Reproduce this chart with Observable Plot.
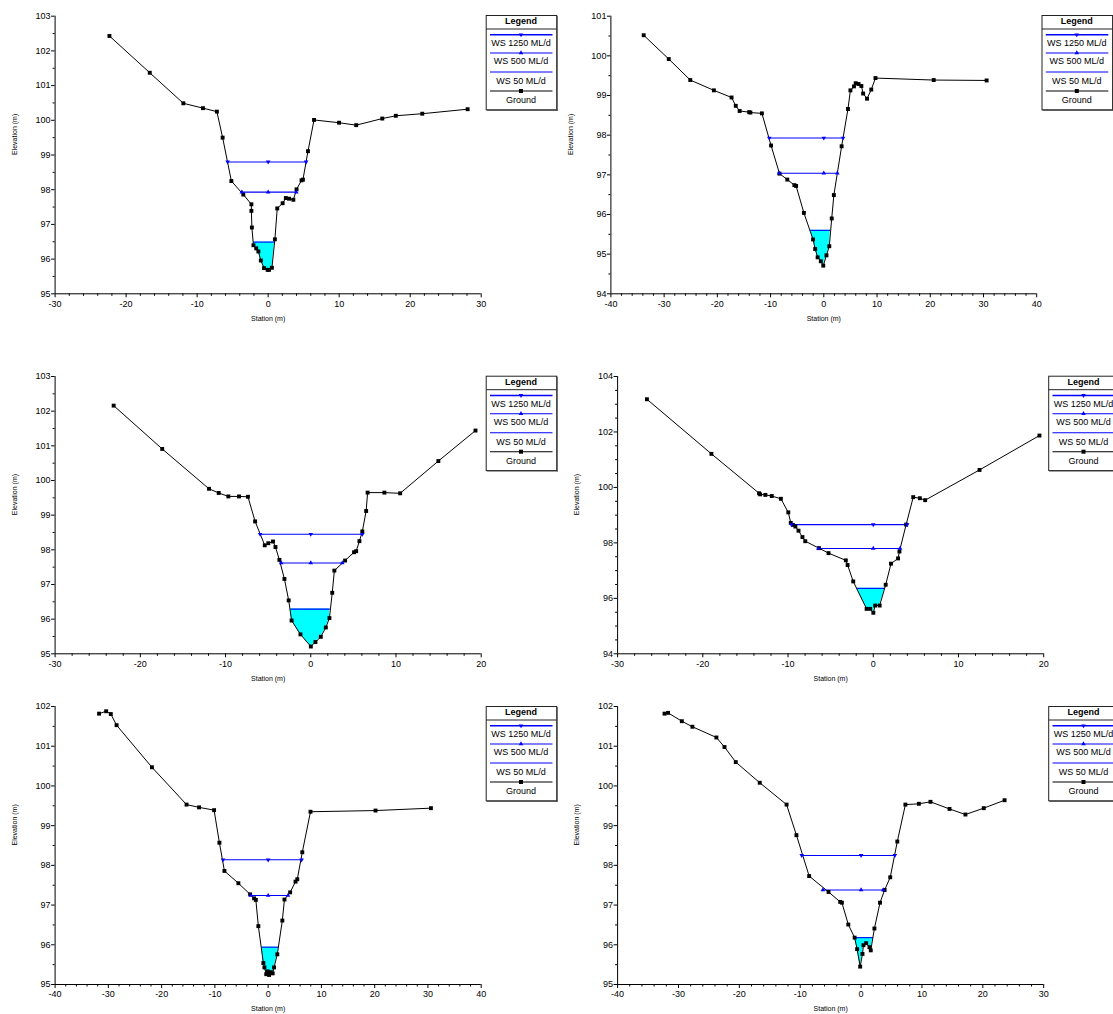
<!DOCTYPE html>
<html><head><meta charset="utf-8">
<script src="https://cdn.jsdelivr.net/npm/d3@7"></script>
<script src="https://cdn.jsdelivr.net/npm/@observablehq/plot@0.6"></script>
<style>
html,body{margin:0;padding:0;background:#fff;}
body{width:1113px;height:1014px;overflow:hidden;position:relative;font-family:Arial,"Liberation Sans",sans-serif;}
.panel{position:absolute;overflow:visible;}
</style></head><body>
<script>
const seriesNames = ["WS 1250 ML/d", "WS 500 ML/d", "WS 50 ML/d", "Ground"];
const xTitle = "Station (m)";
const yTitle = "Elevation (m)";

// Panel 1 (top-left)
const p1Station = [-22.35,-16.67,-11.94,-9.18,-7.22,-6.41,-5.18,-3.50,-2.36,-2.36,-2.29,-2.07,-1.68,-1.38,-1.03,-0.58,-0.07,0.12,0.53,0.95,1.28,2.04,2.49,2.94,3.55,4.00,4.70,4.90,5.61,6.46,9.98,12.40,16.07,17.98,21.70,28.09];
const p1Elevation = [102.43,101.37,100.49,100.35,100.25,99.50,98.25,97.86,97.58,97.39,96.91,96.40,96.31,96.22,95.96,95.74,95.69,95.69,95.75,96.57,97.46,97.61,97.76,97.74,97.71,98.01,98.27,98.29,99.11,100.01,99.93,99.86,100.05,100.13,100.19,100.32];
const p1WSElevation = [98.80, 97.93, 96.49];
const p1WSLeft = [-5.71, -3.70, -2.06];
const p1WSRight = [5.35, 3.97, 0.90];

// Panel 2 (top-right)
const p2Station = [-33.84,-29.13,-25.09,-20.65,-17.33,-16.54,-15.81,-14.02,-13.80,-11.63,-9.91,-8.32,-6.86,-5.53,-5.20,-3.74,-2.02,-1.62,-1.16,-0.56,-0.10,0.50,1.03,1.49,1.89,3.35,4.54,5.00,5.67,6.00,6.53,7.06,7.39,8.12,8.92,9.71,20.65,30.59];
const p2Elevation = [100.52,99.92,99.39,99.13,98.95,98.74,98.61,98.58,98.57,98.55,97.74,97.03,96.88,96.74,96.72,96.04,95.37,95.13,94.92,94.82,94.71,94.97,95.20,95.90,96.49,97.72,98.66,99.13,99.23,99.31,99.29,99.24,99.05,98.92,99.15,99.44,99.39,99.38];
const p2WSElevation = [97.93, 97.04, 95.60];
const p2WSLeft = [-10.24, -8.38, -2.55];
const p2WSRight = [3.61, 2.55, 1.23];

// Panel 3 (middle-left)
const p3Station = [-23.13,-17.43,-11.94,-10.80,-9.67,-8.42,-7.37,-6.53,-5.40,-4.98,-4.43,-4.14,-3.68,-3.09,-2.59,-2.25,-1.21,0.01,0.55,1.18,1.77,2.19,2.52,2.77,4.03,5.08,5.33,5.71,6.05,6.50,6.67,8.64,10.49,14.97,19.33];
const p3Elevation = [102.16,100.91,99.76,99.64,99.54,99.54,99.53,98.82,98.13,98.19,98.24,98.08,97.71,97.16,96.54,95.96,95.56,95.21,95.34,95.49,95.76,96.03,96.76,97.40,97.69,97.93,97.96,98.25,98.53,99.12,99.65,99.65,99.63,100.56,101.44];
const p3WSElevation = [98.45, 97.62, 96.29];
const p3WSLeft = [-5.94, -3.47, -2.38];
const p3WSRight = [6.05, 3.70, 2.23];

// Panel 4 (middle-right)
const p4Station = [-26.56,-18.99,-13.40,-13.28,-12.66,-11.91,-10.84,-9.97,-9.68,-9.43,-9.14,-8.77,-8.31,-7.98,-6.37,-5.25,-3.22,-3.01,-2.35,-0.78,-0.36,0.01,0.22,0.75,1.46,2.08,2.91,3.07,3.86,4.69,5.47,6.09,12.47,19.50];
const p4Elevation = [103.18,101.21,99.79,99.75,99.73,99.69,99.59,99.10,98.72,98.65,98.59,98.44,98.21,98.06,97.81,97.63,97.37,97.20,96.61,95.62,95.62,95.48,95.74,95.74,96.49,97.25,97.44,97.69,98.66,99.65,99.61,99.54,100.63,101.87];
const p4WSElevation = [98.66, 97.80, 96.36];
const p4WSLeft = [-9.59, -6.45, -1.98];
const p4WSRight = [3.98, 3.15, 1.37];

// Panel 5 (bottom-left)
const p5Station = [-31.75,-30.41,-29.54,-28.46,-21.82,-15.32,-12.97,-10.15,-9.15,-8.21,-5.59,-3.38,-2.64,-2.31,-1.84,-0.90,-0.70,-0.36,-0.09,0.17,0.51,0.85,1.11,1.72,2.66,3.06,4.13,5.14,5.47,6.41,7.95,20.16,30.56];
const p5Elevation = [101.82,101.88,101.81,101.53,100.47,99.53,99.46,99.39,98.57,97.86,97.55,97.27,97.17,97.13,96.47,95.54,95.43,95.26,95.33,95.24,95.31,95.28,95.43,95.76,96.61,97.14,97.32,97.59,97.65,98.33,99.35,99.38,99.44];
const p5WSElevation = [98.14, 97.24, 95.94];
const p5WSLeft = [-8.48, -3.25, -1.23];
const p5WSRight = [6.28, 3.73, 1.92];

// Panel 6 (bottom-right)
const p6Station = [-32.29,-31.71,-29.45,-27.71,-23.77,-22.44,-20.59,-16.65,-12.24,-10.62,-8.53,-5.35,-3.43,-3.15,-2.10,-1.06,-0.65,-0.15,0.23,0.39,0.83,1.38,1.59,2.19,3.11,3.87,4.79,5.95,7.28,9.49,11.40,14.53,17.14,20.15,23.57];
const p6Elevation = [101.82,101.84,101.63,101.49,101.22,100.98,100.60,100.08,99.53,98.76,97.73,97.33,97.08,97.06,96.51,96.18,95.89,95.45,95.77,95.99,96.04,95.94,95.86,96.41,97.06,97.38,97.70,98.60,99.53,99.55,99.60,99.42,99.28,99.44,99.64];
const p6WSElevation = [98.25, 97.38, 96.18];
const p6WSLeft = [-9.75, -6.27, -1.06];
const p6WSRight = [5.55, 3.64, 1.92];

// Axis settings per panel
const xDomains = [[-30,30],[-40,40],[-30,20],[-30,20],[-40,40],[-40,30]];
const yDomains = [[95,103],[94,101],[95,103],[94,104],[95,102],[95,102]];
const yMajorSteps = [1,1,1,2,1,1];

const panels = [
  {station:p1Station, elevation:p1Elevation, wsE:p1WSElevation, wsL:p1WSLeft, wsR:p1WSRight, ox:0,   oy:0,   w:560, h:330, frame:[54.6,480.7,15.7,293.3], titleDy:27.4, leg:[485.7,15]},
  {station:p2Station, elevation:p2Elevation, wsE:p2WSElevation, wsL:p2WSLeft, wsR:p2WSRight, ox:560, oy:0,   w:553, h:330, frame:[610.4,1036.2,15.7,293.3], titleDy:27.4, leg:[1041.5,15]},
  {station:p3Station, elevation:p3Elevation, wsE:p3WSElevation, wsL:p3WSLeft, wsR:p3WSRight, ox:0,   oy:360, w:560, h:330, frame:[54.6,480.7,376,653.3], titleDy:27.4, leg:[485.7,375.7]},
  {station:p4Station, elevation:p4Elevation, wsE:p4WSElevation, wsL:p4WSLeft, wsR:p4WSRight, ox:560, oy:360, w:553, h:330, frame:[617.1,1043.2,376,653.3], titleDy:27.4, leg:[1048.2,375.7]},
  {station:p5Station, elevation:p5Elevation, wsE:p5WSElevation, wsL:p5WSLeft, wsR:p5WSRight, ox:0,   oy:690, w:560, h:324, frame:[54.6,480.7,706,984], titleDy:26.7, leg:[485.7,706]},
  {station:p6Station, elevation:p6Elevation, wsE:p6WSElevation, wsL:p6WSLeft, wsR:p6WSRight, ox:560, oy:690, w:553, h:324, frame:[617.1,1043.2,706,984], titleDy:26.7, leg:[1048.2,706]}
];

const FONT = 'Arial, "Liberation Sans", sans-serif';
const BLUE = "#0000ff";

function makePanel(p, k) {
  const ground = p.station.map((s, i) => ({x: s, y: p.elevation[i]}));
  const ws = p.wsE.map((e, i) => ({name: seriesNames[i], y: e, x1: p.wsL[i], x2: p.wsR[i]}));
  const low = ws[2];
  const fill = [
    {x: low.x1, y1: low.y, y2: low.y},
    ...ground.filter(g => g.x > low.x1 && g.x < low.x2).map(g => ({x: g.x, y1: Math.min(g.y, low.y), y2: low.y})),
    {x: low.x2, y1: low.y, y2: low.y}
  ];
  const wsMarks = ws.slice(0, 2).flatMap((d, i) => [d.x1, 0, d.x2].map(x => ({x, y: d.y, rot: i === 0 ? 180 : 0})));
  const [fl, fr, ft, fb] = p.frame;
  const [x0, x1] = xDomains[k];
  const [y0, y1] = yDomains[k];
  const xMajor = d3.range(x0, x1 + 1e-9, 10);
  const xMinor = d3.range(x0, x1 + 1e-9, 2).filter(v => v % 10 !== 0);
  const yMajor = d3.range(y0, y1 + 1e-9, yMajorSteps[k]);
  const yMinor = d3.range(y0, y1 + 1e-9, 0.5).filter(v => Math.abs(v / yMajorSteps[k] - Math.round(v / yMajorSteps[k])) > 1e-6);

  const chart = Plot.plot({
    width: p.w, height: p.h,
    marginLeft: fl - p.ox, marginRight: p.ox + p.w - fr,
    marginTop: ft - p.oy, marginBottom: p.oy + p.h - fb,
    x: {domain: [x0, x1], label: null},
    y: {domain: [y0, y1], label: null},
    style: {fontFamily: FONT, fontSize: "9px", background: "transparent", overflow: "visible", color: "#000"},
    marks: [
      Plot.areaY(fill, {x: "x", y1: "y1", y2: "y2", fill: "#00ffff"}),
      Plot.link(ws, {x1: "x1", x2: "x2", y1: "y", y2: "y", stroke: BLUE, strokeWidth: 1.1}),
      Plot.line(ground, {x: "x", y: "y", stroke: "#000", strokeWidth: 1}),
      Plot.dot(ground, {x: "x", y: "y", symbol: "square", r: 2.2, fill: "#000", stroke: "none"}),
      Plot.dot(wsMarks, {x: "x", y: "y", symbol: "triangle", r: 1.7, fill: BLUE, stroke: "none", rotate: "rot"}),
      Plot.ruleX([x0], {stroke: "#000", strokeWidth: 1}),
      Plot.ruleY([y0], {stroke: "#000", strokeWidth: 1}),
      Plot.axisX({ticks: xMajor, tickSize: 4, tickPadding: 2.5, tickFormat: d => String(d), label: null, fontSize: 9}),
      Plot.axisX({ticks: xMinor, tickSize: 2.5, tickFormat: () => "", label: null}),
      Plot.axisY({ticks: yMajor, tickSize: 3.5, tickPadding: 1, tickFormat: d => String(d), label: null, fontSize: 9}),
      Plot.axisY({ticks: yMinor, tickSize: 2, tickFormat: () => "", label: null}),
      Plot.text([xTitle], {frameAnchor: "bottom", dy: p.titleDy, fontSize: 7, fill: "#000"}),
      Plot.text([yTitle], {frameAnchor: "left", dx: -40.5, rotate: -90, fontSize: 7, fill: "#000"})
    ]
  });
  chart.classList.add("panel");
  chart.style.left = p.ox + "px";
  chart.style.top = p.oy + "px";
  document.body.appendChild(chart);
}

function makeLegend(lx, ly) {
  const W = 70.5, H = 94.3;
  const svg = d3.select("body").append("svg")
    .attr("class", "panel")
    .style("left", Math.floor(lx) + "px").style("top", Math.floor(ly) + "px")
    .attr("width", 76).attr("height", 100)
    .style("font-family", FONT);
  const g = svg.append("g").attr("transform", `translate(${lx - Math.floor(lx)},${ly - Math.floor(ly)})`);
  g.append("rect").attr("x", 0.5).attr("y", 0.5).attr("width", W).attr("height", H)
    .attr("fill", "#fff").attr("stroke", "#222").attr("stroke-width", 1);
  g.append("line").attr("x1", W + 1).attr("x2", W + 1).attr("y1", 1).attr("y2", H + 1.5).attr("stroke", "#444").attr("stroke-width", 1);
  g.append("line").attr("x1", 1).attr("x2", W + 1.5).attr("y1", H + 1).attr("y2", H + 1).attr("stroke", "#444").attr("stroke-width", 1);
  g.append("line").attr("x1", 0.5).attr("x2", W + 0.5).attr("y1", 14).attr("y2", 14).attr("stroke", "#222").attr("stroke-width", 1);
  const cx = 35.3;
  g.append("text").attr("x", cx).attr("y", 6.2).attr("dy", "0.35em").attr("text-anchor", "middle")
    .attr("font-size", 9).attr("font-weight", "bold").text("Legend");
  const lineY = [19.7, 38, 57, 76];
  const textY = [27.7, 46, 65.7, 84.7];
  seriesNames.forEach((name, i) => {
    const col = i === 3 ? "#000" : BLUE;
    g.append("line").attr("x1", 4.3).attr("x2", 66.8).attr("y1", lineY[i]).attr("y2", lineY[i])
      .attr("stroke", col).attr("stroke-width", i === 0 ? 1.5 : 1.1);
    if (i === 0) g.append("path").attr("d", d3.symbol(d3.symbolTriangle, 9)()).attr("transform", `translate(${cx},${lineY[i]}) rotate(180)`).attr("fill", BLUE);
    if (i === 1) g.append("path").attr("d", d3.symbol(d3.symbolTriangle, 9)()).attr("transform", `translate(${cx},${lineY[i]})`).attr("fill", BLUE);
    if (i === 3) g.append("rect").attr("x", cx - 2).attr("y", lineY[i] - 2).attr("width", 4).attr("height", 4).attr("fill", "#000");
    g.append("text").attr("x", cx).attr("y", textY[i]).attr("dy", "0.35em").attr("text-anchor", "middle")
      .attr("font-size", 9).text(name);
  });
}

panels.forEach((p, k) => { makePanel(p, k); makeLegend(p.leg[0], p.leg[1]); });
</script>
</body></html>
